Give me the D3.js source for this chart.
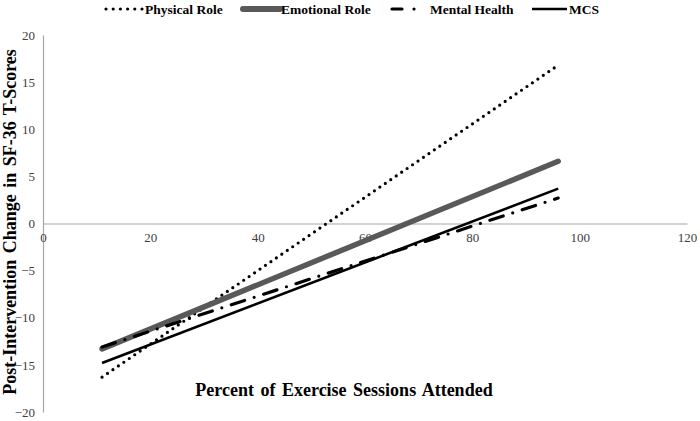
<!DOCTYPE html>
<html>
<head>
<meta charset="utf-8">
<script src="https://cdn.jsdelivr.net/npm/d3@7"></script>
<style>
  html, body { margin: 0; padding: 0; background: #fff; }
  svg { display: block; }
  svg text { font-family: "Liberation Serif", "Times New Roman", serif !important; }
</style>
</head>
<body>
<svg id="chart" width="700" height="421"></svg>
<script>
// ---- data ----
const seriesNames = ["Physical Role", "Emotional Role", "Mental Health", "MCS"];
const xEnds = [11, 96];
const physicalRole = [-16.3, 16.8];
const emotionalRole = [-13.3, 6.6];
const mentalHealth = [-13.1, 2.7];
const mcs = [-14.8, 3.7];
const xTicks = [0, 20, 40, 60, 80, 100, 120];
const yTicks = [-20, -15, -10, -5, 0, 5, 10, 15, 20];

const svg = d3.select("#chart");
const x = d3.scaleLinear().domain([0, 120]).range([43, 687]);
const y = d3.scaleLinear().domain([-20, 20]).range([412, 35]);

const axisColor = "#a6a6a6";
const tickColor = "#404040";
const serif = "'Liberation Serif', 'Times New Roman', serif";

// y axis
const yAxis = svg.append("g").attr("transform", `translate(${x(0)},0)`)
  .attr("font-family", serif)
  .call(d3.axisLeft(y).tickValues(yTicks).tickSize(0).tickPadding(8));
yAxis.attr("font-family", serif);
yAxis.select(".domain").attr("stroke", axisColor).attr("stroke-width", 1.2);
yAxis.selectAll("text").attr("font-size", 13).attr("fill", tickColor)
  .style("font-family", serif);

// x axis at y = 0
const xAxis = svg.append("g").attr("transform", `translate(0,${y(0)})`)
  .call(d3.axisBottom(x).tickValues(xTicks).tickSize(0).tickPadding(9));
xAxis.attr("font-family", serif);
xAxis.select(".domain").attr("stroke", axisColor).attr("stroke-width", 1.2);
xAxis.selectAll("text").attr("font-size", 13).attr("fill", tickColor)
  .style("font-family", serif);

const styles = {
  "Physical Role": { color: "#000", width: 3.2, dash: "0,6.6", cap: "round" },
  "Emotional Role": { color: "#595959", width: 5.5, dash: null, cap: "round" },
  "Mental Health": { color: "#000", width: 3.2, dash: "14,10,0,10", cap: "round" },
  "MCS": { color: "#000", width: 2.6, dash: null, cap: "butt" }
};
const seriesVals = [physicalRole, emotionalRole, mentalHealth, mcs];

const line = d3.line().x(d => x(d[0])).y(d => y(d[1]));
seriesNames.forEach((name, i) => {
  const pts = xEnds.map((xv, j) => [xv, seriesVals[i][j]]);
  const s = styles[name];
  svg.append("path").datum(pts)
    .attr("d", line)
    .attr("fill", "none")
    .attr("stroke", s.color)
    .attr("stroke-width", s.width)
    .attr("stroke-linecap", s.cap)
    .attr("stroke-dasharray", s.dash);
});

// legend
const legend = [
  { name: "Physical Role", x0: 106, x1: 143, tx: 145 },
  { name: "Emotional Role", x0: 243, x1: 280, tx: 281 },
  { name: "Mental Health", x0: 392, x1: 424, tx: 430 },
  { name: "MCS", x0: 532, x1: 567, tx: 569 }
];
const ly = 9;
legend.forEach(l => {
  const s = styles[l.name];
  svg.append("line")
    .attr("x1", l.x0).attr("x2", l.x1).attr("y1", ly).attr("y2", ly)
    .attr("stroke", s.color)
    .attr("stroke-width", l.name === "Emotional Role" ? 6 : s.width)
    .attr("stroke-linecap", s.cap)
    .attr("stroke-dasharray", l.name === "Mental Health" ? "10,12,0,20" : (l.name === "Physical Role" ? "0,7.2" : null));
  svg.append("text")
    .attr("x", l.tx).attr("y", ly)
    .attr("dy", "0.35em")
    .attr("font-size", 13.5)
    .attr("font-weight", "bold")
    .attr("fill", "#000")
    .text(l.name);
});

// axis titles
svg.append("text")
  .attr("x", 344).attr("y", 390)
  .attr("dy", "0.35em")
  .attr("text-anchor", "middle")
  .attr("font-size", 18)
  .attr("font-weight", "bold")
  .attr("word-spacing", 2)
  .text("Percent of Exercise Sessions Attended");

svg.append("text")
  .attr("transform", "translate(10,222) rotate(-90)")
  .attr("dy", "0.35em")
  .attr("text-anchor", "middle")
  .attr("font-size", 18)
  .attr("font-weight", "bold")
  .attr("word-spacing", 2)
  .text("Post-Intervention Change in SF-36 T-Scores");
</script>
</body>
</html>
